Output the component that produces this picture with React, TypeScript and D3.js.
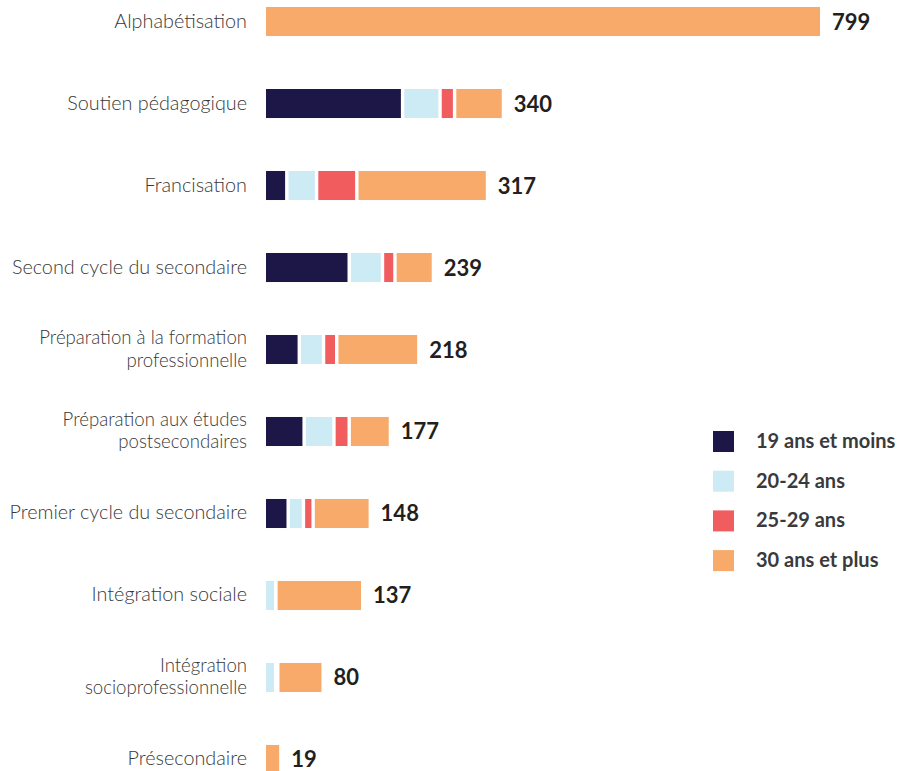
import * as d3 from 'd3';
import React, {useEffect, useRef} from 'react';

// categories (top to bottom), label lines
const categories = [
    ['Alphabétisation'],
    ['Soutien pédagogique'],
    ['Francisation'],
    ['Second cycle du secondaire'],
    ['Préparation à la formation', 'professionnelle'],
    ['Préparation aux études', 'postsecondaires'],
    ['Premier cycle du secondaire'],
    ['Intégration sociale'],
    ['Intégration', 'socioprofessionnelle'],
    ['Présecondaire'],
];

// series values, one per age group
const ageGroups = ['19 ans et moins', '20-24 ans', '25-29 ans', '30 ans et plus'];
const age19 = [0, 197, 30, 120, 48, 55, 32, 0, 0, 0];
const age20 = [0, 54, 43, 48, 35, 43, 22, 14, 14, 0];
const age25 = [0, 21, 58, 18, 19, 22, 14, 0, 3, 0];
const age30 = [799, 68, 186, 53, 116, 57, 80, 123, 63, 19];
const totals = [799, 340, 317, 239, 218, 177, 148, 137, 80, 19];

const colors = ['#1d1747', '#cdebf4', '#f15c5f', '#f7aa69'];

export default function App() {
    const ref = useRef(null);

    useEffect(() => {
        const svg = d3.select(ref.current);
        svg.selectAll('*').remove();

        const keys = categories.map((c) => c.join(' '));
        const rows = keys.map((k, i) => ({
            key: k, g0: age19[i], g1: age20[i], g2: age25[i], g3: age30[i],
        }));
        const stack = d3.stack().keys(['g0', 'g1', 'g2', 'g3'])(rows);

        const x = d3.scaleLinear().domain([0, 799]).range([266, 820]);
        const y = d3.scaleBand()
            .domain(keys)
            .range([7, 774])
            .paddingInner(0.646)
            .paddingOuter(0);

        // bars
        svg.append('g')
            .selectAll('g')
            .data(stack)
            .join('g')
            .attr('fill', (d, i) => colors[i])
            .selectAll('rect')
            .data((d) => d.filter((v) => v[1] - v[0] > 0))
            .join('rect')
            .attr('x', (d) => x(d[0]))
            .attr('y', (d) => y(d.data.key))
            .attr('width', (d) => x(d[1]) - x(d[0]))
            .attr('height', y.bandwidth());

        // white separators between segments
        const seps = [];
        stack.slice(0, 3).forEach((layer) => {
            layer.forEach((v) => {
                const tot = totals[keys.indexOf(v.data.key)];
                if (v[1] > 0 && v[1] < tot) seps.push({key: v.data.key, at: v[1]});
            });
        });
        svg.append('g')
            .selectAll('rect')
            .data(seps)
            .join('rect')
            .attr('x', (d) => x(d.at) - 1.7)
            .attr('y', (d) => y(d.key) - 1)
            .attr('width', 3.4)
            .attr('height', y.bandwidth() + 2)
            .attr('fill', '#fff');

        // category labels (two-line ones as separate texts)
        const labelLines = [];
        categories.forEach((c, i) => {
            const mid = y(keys[i]) + y.bandwidth() / 2;
            c.forEach((line, j) => {
                const two = c.length > 1;
                const base = two ? mid - 5.5 + j * 22.5 : mid + 6;
                labelLines.push({line, base, size: two ? 18.6 : 19.8});
            });
        });
        svg.append('g')
            .selectAll('text')
            .data(labelLines)
            .join('text')
            .attr('x', 247)
            .attr('y', (d) => d.base)
            .attr('text-anchor', 'end')
            .style('font-family', 'Lato, "Open Sans", sans-serif')
            .style('font-weight', 300)
            .style('font-size', (d) => `${d.size}px`)
            .attr('fill', '#383838')
            .text((d) => d.line);

        // totals
        svg.append('g')
            .selectAll('text')
            .data(totals)
            .join('text')
            .attr('x', (d) => x(d) + 12)
            .attr('y', (d, i) => y(keys[i]) + y.bandwidth() / 2 + 8)
            .style('font-family', 'Lato, "Open Sans", sans-serif')
            .style('font-weight', 'bold')
            .style('font-size', '22px')
            .attr('fill', '#231f20')
            .text((d) => d);

        // legend
        const legend = svg.append('g')
            .selectAll('g')
            .data(ageGroups)
            .join('g')
            .attr('transform', (d, i) => `translate(713,${431 + i * 39.7})`);
        legend.append('rect')
            .attr('width', 21)
            .attr('height', 21)
            .attr('fill', (d, i) => colors[i]);
        legend.append('text')
            .attr('x', 43)
            .attr('y', 17)
            .style('font-family', 'Lato, "Open Sans", sans-serif')
            .style('font-weight', 'bold')
            .style('font-size', '20px')
            .attr('fill', '#3a3a3a')
            .text((d) => d);
    }, []);

    return (
        <svg
            ref={ref}
            width={898}
            height={771}
            style={{position: 'absolute', left: 0, top: 0, background: '#fff'}}
        />
    );
}
